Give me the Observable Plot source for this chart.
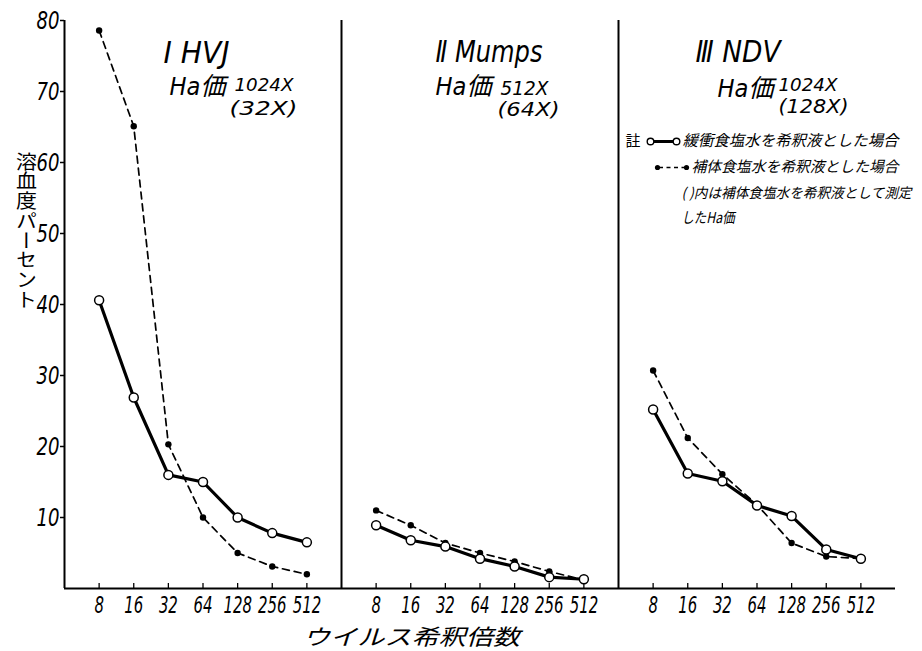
<!DOCTYPE html>
<html><head><meta charset="utf-8">
<script src="https://cdn.jsdelivr.net/npm/d3@7"></script>
<script src="https://cdn.jsdelivr.net/npm/@observablehq/plot@0.6"></script>
<style>
html,body{margin:0;padding:0;background:#fff;}
#chart{width:922px;height:651px;overflow:hidden;}
</style></head><body><div id="chart"></div>
<script>
// ---- data ----
const dilutions = [8, 16, 32, 64, 128, 256, 512];
const panels = ["I", "II", "III"];
const hvjBuffer = [40.6, 26.9, 16.0, 15.0, 10.0, 7.8, 6.5];
const hvjComplement = [78.6, 65.1, 20.3, 10.0, 5.0, 3.1, 2.0];
const mumpsBuffer = [8.9, 6.8, 5.9, 4.2, 3.1, 1.6, 1.3];
const mumpsComplement = [11.0, 8.9, 6.4, 5.0, 3.8, 2.4, 1.2];
const ndvBuffer = [25.2, 16.2, 15.1, 11.7, 10.2, 5.5, 4.2];
const ndvComplement = [30.7, 21.2, 16.1, 11.8, 6.4, 4.5, 4.2];
const panelTitles = ["Ⅰ HVJ", "Ⅱ Mumps", "Ⅲ NDV"];
const haLabel = "Ha価";
const haTiter = ["1024X", "512X", "1024X"];
const haTiterComplement = ["(32X)", "(64X)", "(128X)"];
const yTicks = [10, 20, 30, 40, 50, 60, 70, 80];
const yTitle = "溶血度パーセント";
const xTitle = "ウイルス希釈倍数";
const legendNote = "註";
const legendBuffer = "緩衝食塩水を希釈液とした場合";
const legendComplement = "補体食塩水を希釈液とした場合";
const legendParen1 = "( )内は補体食塩水を希釈液として測定";
const legendParen2 = "したHa価";
const xDomain = [4, 1024];
const yDomain = [0, 80];

// ---- table ----
const seriesByPanel = {
  I: [hvjBuffer, hvjComplement],
  II: [mumpsBuffer, mumpsComplement],
  III: [ndvBuffer, ndvComplement]
};
const rows = [];
panels.forEach(p => {
  const [b, c] = seriesByPanel[p];
  dilutions.forEach((d, j) => {
    rows.push({panel: p, dilution: d, value: b[j], series: "buffer"});
    rows.push({panel: p, dilution: d, value: c[j], series: "complement"});
  });
});
const buffer = rows.filter(r => r.series === "buffer");
const complement = rows.filter(r => r.series === "complement");
const titleRows = panels.map((p, i) => ({panel: p, title: panelTitles[i], titer: haTiter[i], comp: haTiterComplement[i]}));

const latin = "'Liberation Sans Narrow','DejaVu Sans Condensed','Noto Sans CJK JP',sans-serif";
const latinWide = "'DejaVu Sans','Noto Sans CJK JP',sans-serif";
const cjk = "'Noto Sans CJK JP',sans-serif";

const hLine = {draw(ctx, size) { const h = Math.sqrt(size / Math.PI); ctx.moveTo(-h, 0); ctx.lineTo(h, 0); }};

function onPanel(p, data, mark, opts) {
  return mark(data, {fx: () => p, frameAnchor: "top-left", lineAnchor: "middle", ...opts});
}
const T = p => titleRows.filter(r => r.panel === p);

const chart = Plot.plot({
  width: 922, height: 651,
  marginLeft: 63, marginRight: 27, marginTop: 20, marginBottom: 63,
  style: {background: "white", color: "black"},
  fx: {domain: panels, padding: 0, axis: null, label: null},
  x: {type: "log", base: 2, domain: xDomain, label: null},
  y: {domain: yDomain, label: null},
  marks: [
    Plot.ruleY([yDomain[0]], {strokeWidth: 2}),
    Plot.ruleX([xDomain[0]], {strokeWidth: 2}),
    Plot.tickX(dilutions, {x: d => d, insetTop: 563, strokeWidth: 1.3}),
    Plot.axisX({ticks: dilutions, tickFormat: d => String(d), tickSize: 0, tickPadding: 8, fontSize: 20, fontStyle: "italic", fontFamily: latin, label: null}),
    Plot.axisY({ticks: yTicks, tickSize: 4, tickPadding: 1, fontSize: 25, fontStyle: "italic", fontFamily: latin, label: null, strokeWidth: 1.5}),
    Plot.line(complement, {x: "dilution", y: "value", fx: "panel", stroke: "black", strokeWidth: 1.7, strokeDasharray: "7,5"}),
    Plot.line(buffer, {x: "dilution", y: "value", fx: "panel", stroke: "black", strokeWidth: 3.2}),
    Plot.dot(complement, {x: "dilution", y: "value", fx: "panel", r: 3.2, fill: "black"}),
    Plot.dot(buffer, {x: "dilution", y: "value", fx: "panel", r: 4.5, fill: "white", stroke: "black", strokeWidth: 1.5}),
    // y title (vertical writing)
    Plot.text([yTitle], {fx: () => "I", frameAnchor: "left", lineAnchor: "middle", dx: -38, dy: -81, text: d => d, fontSize: 21, fontFamily: cjk, textAnchor: "middle"}),
    // x title
    Plot.text([xTitle], {fx: () => "II", frameAnchor: "bottom-left", lineAnchor: "middle", dx: 70, dy: 49, text: d => d, fontSize: 22, fontFamily: cjk, fontStyle: "italic", textAnchor: "middle"}),
    // panel titles
    onPanel("I", T("I"), Plot.text, {text: "title", dx: 99, dy: 33, textAnchor: "start", fontSize: 30, fontStyle: "italic", fontFamily: latin}),
    onPanel("I", T("I"), Plot.text, {text: () => haLabel, dx: 105, dy: 66, textAnchor: "start", fontSize: 25, fontStyle: "italic", fontFamily: latin}),
    onPanel("I", T("I"), Plot.text, {text: "titer", dx: 170, dy: 65, textAnchor: "start", fontSize: 17, fontStyle: "italic", fontFamily: latinWide}),
    onPanel("I", T("I"), Plot.text, {text: "comp", dx: 165, dy: 88, textAnchor: "start", fontSize: 19, fontStyle: "italic", fontFamily: latinWide}),
    onPanel("II", T("II"), Plot.text, {text: "title", dx: 94, dy: 32, textAnchor: "start", fontSize: 30, fontStyle: "italic", fontFamily: latin}),
    onPanel("II", T("II"), Plot.text, {text: () => haLabel, dx: 94, dy: 66, textAnchor: "start", fontSize: 25, fontStyle: "italic", fontFamily: latin}),
    onPanel("II", T("II"), Plot.text, {text: "titer", dx: 159, dy: 68, textAnchor: "start", fontSize: 19, fontStyle: "italic", fontFamily: latinWide}),
    onPanel("II", T("II"), Plot.text, {text: "comp", dx: 156, dy: 89, textAnchor: "start", fontSize: 19, fontStyle: "italic", fontFamily: latinWide}),
    onPanel("III", T("III"), Plot.text, {text: "title", dx: 77, dy: 32, textAnchor: "start", fontSize: 30, fontStyle: "italic", fontFamily: latin}),
    onPanel("III", T("III"), Plot.text, {text: () => haLabel, dx: 99, dy: 68, textAnchor: "start", fontSize: 25, fontStyle: "italic", fontFamily: latin}),
    onPanel("III", T("III"), Plot.text, {text: "titer", dx: 160, dy: 65, textAnchor: "start", fontSize: 18, fontStyle: "italic", fontFamily: latinWide}),
    onPanel("III", T("III"), Plot.text, {text: "comp", dx: 160, dy: 86, textAnchor: "start", fontSize: 19, fontStyle: "italic", fontFamily: latinWide}),
    // legend
    onPanel("III", [legendNote], Plot.text, {text: d => d, dx: 7, dy: 121, textAnchor: "start", fontSize: 15, fontFamily: cjk}),
    onPanel("III", [legendBuffer], Plot.dot, {dx: 45, dy: 121, r: 13, symbol: hLine, fill: "none", stroke: "black", strokeWidth: 3}),
    onPanel("III", [legendBuffer], Plot.dot, {dx: 32, dy: 121, r: 3.3, fill: "white", stroke: "black", strokeWidth: 1.4}),
    onPanel("III", [legendBuffer], Plot.dot, {dx: 58, dy: 121, r: 3.3, fill: "white", stroke: "black", strokeWidth: 1.4}),
    onPanel("III", [legendBuffer], Plot.text, {text: d => d, dx: 64, dy: 121, textAnchor: "start", fontSize: 15.5, fontStyle: "italic", fontFamily: cjk}),
    onPanel("III", [legendComplement], Plot.dot, {dx: 53.5, dy: 147, r: 13, symbol: hLine, fill: "none", stroke: "black", strokeWidth: 1.6, strokeDasharray: "4,3.5"}),
    onPanel("III", [legendComplement], Plot.dot, {dx: 39, dy: 147, r: 2.6, fill: "black"}),
    onPanel("III", [legendComplement], Plot.dot, {dx: 68, dy: 147, r: 2.6, fill: "black"}),
    onPanel("III", [legendComplement], Plot.text, {text: d => d, dx: 73, dy: 147, textAnchor: "start", fontSize: 15, fontStyle: "italic", fontFamily: cjk}),
    onPanel("III", [legendParen1], Plot.text, {text: d => d, dx: 63, dy: 173, textAnchor: "start", fontSize: 14, fontStyle: "italic", fontFamily: cjk}),
    onPanel("III", [legendParen2], Plot.text, {text: d => d, dx: 63, dy: 198, textAnchor: "start", fontSize: 15, fontStyle: "italic", fontFamily: cjk})
  ]
});
document.getElementById("chart").appendChild(chart);

// fit hand-lettered text widths
const widths = new Map([
  ["Ⅰ HVJ", 66], ["Ⅱ Mumps", 107], ["Ⅲ NDV", 85], [haLabel, 56],
  ["1024X", 59], ["512X", 48], ["(32X)", 68], ["(64X)", 62], ["(128X)", 70],
  [legendBuffer, 216], [legendComplement, 207], [legendParen1, 230], [legendParen2, 53], [xTitle, 217]
]);
const svg = d3.select(chart);
svg.selectAll("text").each(function() {
  if (this.querySelector("tspan")) return;
  const w = widths.get(this.textContent);
  if (w) { this.setAttribute("textLength", w); this.setAttribute("lengthAdjust", "spacingAndGlyphs"); }
  if (this.textContent === yTitle) {
    this.setAttribute("writing-mode", "vertical-rl");
    this.style.writingMode = "vertical-rl";
    this.removeAttribute("dy");
    this.setAttribute("textLength", 158);
    this.setAttribute("lengthAdjust", "spacingAndGlyphs");
  }
});
// narrow, tall hand-lettered tick numerals
svg.selectAll('g[aria-label="x-axis tick label"] text').each(function() {
  this.setAttribute("textLength", 9.5 * this.textContent.length);
  this.setAttribute("lengthAdjust", "spacingAndGlyphs");
  const t = this.getAttribute("transform");
  if (t) this.setAttribute("transform", t + " scale(1,1.15)");
});
svg.selectAll('g[aria-label="y-axis tick label"] text').each(function() {
  this.setAttribute("textLength", 11.5 * this.textContent.length);
  this.setAttribute("lengthAdjust", "spacingAndGlyphs");
});
</script></body></html>
